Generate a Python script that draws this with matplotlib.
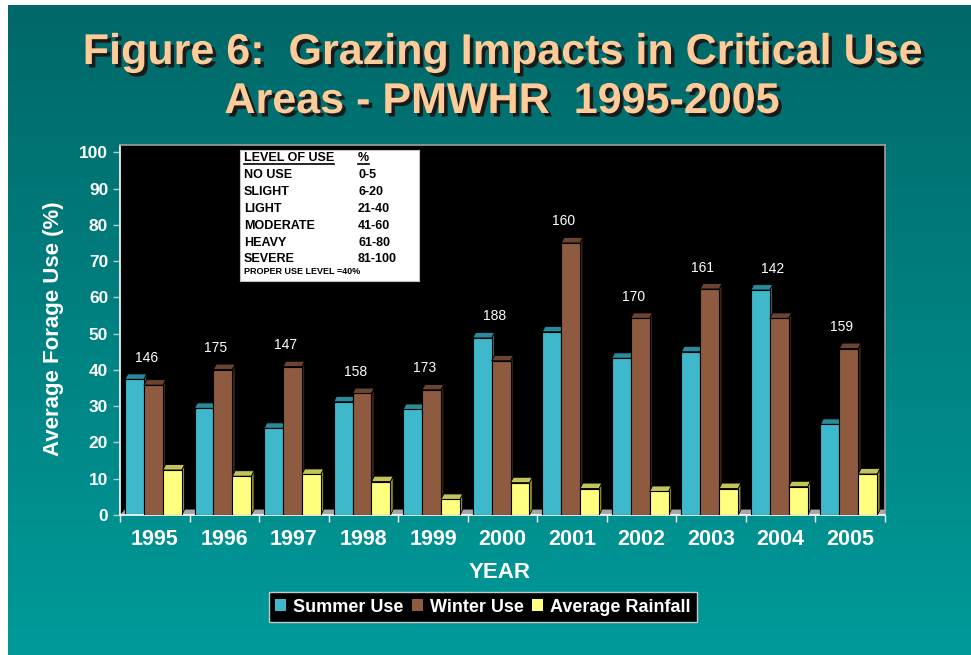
import numpy as np
import matplotlib
matplotlib.use('Agg')
import matplotlib.pyplot as plt
from matplotlib.patches import Rectangle, Polygon, Patch
from matplotlib.colors import LinearSegmentedColormap
from matplotlib import patheffects as pe
from matplotlib import font_manager as fm

plt.rcParams['font.family'] = ['Liberation Sans', 'DejaVu Sans']

# 数据
years = ['1995', '1996', '1997', '1998', '1999', '2000', '2001', '2002', '2003', '2004', '2005']
summer_use = [37.4, 29.4, 23.9, 31.2, 29.1, 48.8, 50.5, 43.2, 45.0, 62.0, 25.0]
winter_use = [35.8, 40.1, 40.9, 33.5, 34.5, 42.5, 75.0, 54.2, 62.3, 54.2, 45.9]
avg_rainfall = [12.4, 10.7, 11.2, 9.2, 4.3, 8.9, 7.3, 6.5, 7.3, 7.8, 11.3]
group_labels = ['146', '175', '147', '158', '173', '188', '160', '170', '161', '142', '159']
series_names = ['Summer Use', 'Winter Use', 'Average Rainfall']

use_levels = ['NO USE', 'SLIGHT', 'LIGHT', 'MODERATE', 'HEAVY', 'SEVERE']
use_ranges = ['0-5', '6-20', '21-40', '41-60', '61-80', '81-100']
proper_use = 'PROPER USE LEVEL =40%'

# 颜色: 正面, 顶面, 侧面
colors = [('#40b8cc', '#2a8a99', '#1f6a75'),
          ('#8e5b40', '#6a4430', '#3a2518'),
          ('#ffff80', '#c4c45c', '#8f8f3a')]

W, H = 971, 655
fig = plt.figure(figsize=(W / 100, H / 100), dpi=100)
fig.patch.set_facecolor('white')

# 渐变背景
bg = fig.add_axes([8 / W, 0, (W - 8) / W, (H - 5) / H])
grad = np.linspace(0, 1, 256).reshape(-1, 1)
cmap = LinearSegmentedColormap.from_list('teal', ['#006868', '#009a9a'])
bg.imshow(grad, aspect='auto', cmap=cmap, extent=[0, 1, 0, 1], origin='upper')
bg.axis('off')

# 主图
ax = fig.add_axes([120 / W, 1 - 515 / H, 765 / W, 370 / H])
ax.set_facecolor('black')
ax.set_xlim(-0.5, len(years) - 0.5)
ax.set_ylim(0, 102)

# 地板
fdx, dy = 0.07, 1.5
ax.add_patch(Polygon([(-0.5, 0), (len(years) - 0.5, 0), (len(years) - 0.5 + fdx, dy), (-0.5 + fdx, dy)],
                     closed=True, facecolor='#a8a8a8', edgecolor='none', zorder=1))

width = 0.272
dx = 0.04
all_series = [summer_use, winter_use, avg_rainfall]
for i in range(len(years)):
    for k, vals in enumerate(all_series):
        v = vals[i]
        x0 = i + (k - 1) * width - width / 2 - 0.02
        front, top, side = colors[k]
        z = 2 + i * 3 + k
        ax.add_patch(Polygon([(x0 + width, 0), (x0 + width + dx, dy), (x0 + width + dx, v + dy), (x0 + width, v)],
                             closed=True, facecolor=side, edgecolor='black', lw=0.6, zorder=z))
        ax.add_patch(Polygon([(x0, v), (x0 + width, v), (x0 + width + dx, v + dy), (x0 + dx, v + dy)],
                             closed=True, facecolor=top, edgecolor='black', lw=0.6, zorder=z))
        ax.add_patch(Rectangle((x0, 0), width, v, facecolor=front, edgecolor='black', lw=0.8, zorder=z))
    top_val = max(summer_use[i], winter_use[i], avg_rainfall[i])
    ax.text(i - 0.12, top_val + dy + 2.5, group_labels[i], ha='center', va='bottom',
            color='white', fontsize=10, zorder=50)

# 坐标轴样式
ax.set_yticks(range(0, 101, 10))
ax.tick_params(axis='y', colors='#b0d0d0', length=5, width=1, labelcolor='white', labelsize=12.5)
for t in ax.get_yticklabels():
    t.set_fontweight('bold')
ax.set_xticks(range(len(years)))
ax.set_xticklabels(years, fontsize=15.5, fontweight='bold', color='white')
ax.tick_params(axis='x', which='major', length=0, pad=10)
ax.set_xticks(np.arange(-0.5, len(years), 1.0), minor=True)
ax.tick_params(axis='x', which='minor', length=5, width=1, color='white')
ax.spines['left'].set_color('white')
ax.spines['bottom'].set_color('white')
ax.spines['top'].set_color('#a0a0a0')
ax.spines['right'].set_color('#a0a0a0')
for s in ax.spines.values():
    s.set_linewidth(1.2)

fig.text(53 / W, 1 - 329 / H, 'Average Forage Use (%)', rotation=90, ha='center', va='center',
         color='white', fontsize=16, fontweight='bold')
fig.text(500 / W, 1 - 572 / H, 'YEAR', ha='center', va='center', color='white', fontsize=16, fontweight='bold')

# 使用等级表
axt = fig.add_axes([240 / W, 1 - 281 / H, 179 / W, 131 / H])
axt.set_xlim(0, 179)
axt.set_ylim(131, 0)
axt.set_facecolor('white')
axt.set_xticks([])
axt.set_yticks([])
for s in axt.spines.values():
    s.set_color('#c0c0c0')
h1 = axt.text(4, 8, 'LEVEL OF USE', fontsize=9, fontweight='bold', va='center')
h2 = axt.text(118, 8, '%', fontsize=9, fontweight='bold', va='center')
row_y = [25, 42, 59, 76, 93, 109]
for lvl, rng, yy in zip(use_levels, use_ranges, row_y):
    axt.text(4, yy, lvl, fontsize=9, fontweight='bold', va='center')
    axt.text(118, yy, rng, fontsize=9, fontweight='bold', va='center')
axt.text(4, 122, proper_use, fontsize=6.5, fontweight='bold', va='center')

# 下划线
fig.canvas.draw()
r = fig.canvas.get_renderer()
inv = axt.transData.inverted()
for h in (h1, h2):
    bb = h.get_window_extent(r)
    (xa, _), (xb, _) = inv.transform([(bb.x0, bb.y0), (bb.x1, bb.y0)])
    axt.plot([xa, xb], [14, 14], color='black', lw=1.2)

# 图例
handles = [Patch(facecolor=c[0], edgecolor='none') for c in colors]
leg = fig.legend(handles, series_names, loc='center', bbox_to_anchor=(483 / W, 1 - 607 / H), ncol=3,
                 fancybox=False, prop={'weight': 'bold', 'size': 13}, handlelength=0.6, handleheight=0.6,
                 handletextpad=0.4, columnspacing=0.45, borderpad=0.35, borderaxespad=0, framealpha=1)
leg.get_frame().set_facecolor('black')
leg.get_frame().set_edgecolor('#c8c8c8')
for t in leg.get_texts():
    t.set_color('white')

# 标题
try:
    fm.findfont(fm.FontProperties(family='Liberation Sans Narrow', weight='bold'), fallback_to_default=False)
    title_family, title_size = ['Liberation Sans Narrow', 'DejaVu Sans'], 37
except Exception:
    title_family, title_size = ['Liberation Sans', 'DejaVu Sans'], 31

shadow = [pe.withSimplePatchShadow(offset=(2.5, -2.5), shadow_rgbFace='#1a1a1a', alpha=1.0)]
fig.text(0.5 + 16 / W, 1 - 64 / H, 'Figure 6:  Grazing Impacts in Critical Use', ha='center', va='baseline',
         fontsize=title_size, fontweight='bold', color='#ffcc99', family=title_family,
         path_effects=shadow)
fig.text(0.5 + 16 / W, 1 - 113 / H, 'Areas - PMWHR  1995-2005', ha='center', va='baseline',
         fontsize=title_size, fontweight='bold', color='#ffcc99', family=title_family,
         path_effects=shadow)

fig.savefig('out.png', dpi=100)
